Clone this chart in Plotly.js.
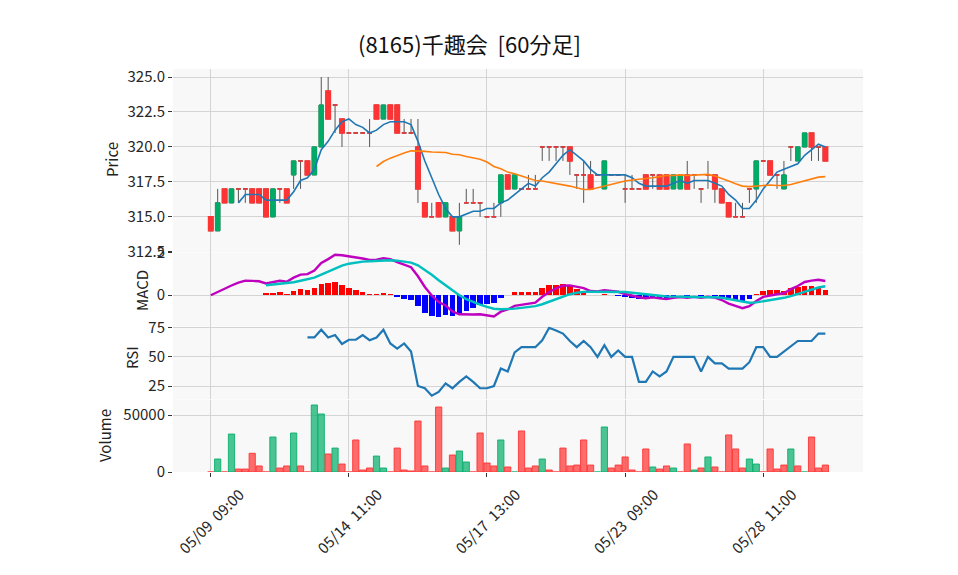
<!DOCTYPE html>
<html><head><meta charset="utf-8">
<script src="https://cdn.plot.ly/plotly-3.0.1.min.js"></script>
<style>html,body{margin:0;padding:0;background:#fff}#chart{width:958px;height:575px}</style>
</head><body><div id="chart"></div>
<script>
// ---- data (60-minute bars, index 0 = 05/09 09:00) ----
const opens  = [315,314,317,316,317,317,317,317,317,315,317,317,318,319,319,318,320,324,323,322,
                321,321,321,321,323,322,323,323,321,321,320,316,315,316,315,315,314,316,316,316,
                315,315,316,318,317,317,317,317,320,320,320,320,320,318,318,318,318,317,318,318,
                317,317,317,318,318,318,318,317,317,318,318,317,318,318,317,316,315,315,317,317,
                319,319,318,317,320,319,320,321,320,320];
const highs  = [315,317,317,317,317,317,317,317,317,317,317,317,319,319,319,320,325,325,323,322,
                321,321,321,322,323,323,323,323,322,322,322,316,316,316,316,315,316,317,317,316,
                315,316,318,318,318,317,318,318,320,320,320,320,320,318,319,319,318,319,318,318,
                318,318,317,318,318,318,318,318,318,319,318,317,319,318,317,316,316,316,317,319,
                319,319,318,319,320,320,321,321,320,320];
const lows   = [314,314,316,316,316,316,316,316,315,315,316,316,317,317,318,318,320,322,321,320,
                321,321,321,320,322,322,322,321,321,321,316,315,315,315,315,314,313,316,316,315,
                315,315,315,317,317,317,317,317,319,319,319,319,318,317,316,317,318,317,318,318,
                316,317,317,317,317,317,317,317,317,317,317,316,317,316,316,315,315,315,316,316,
                319,318,317,317,319,319,320,319,319,319];
const closes = [314,316,316,317,317,317,316,316,315,317,317,316,319,319,318,320,323,322,323,321,
                321,321,321,321,322,323,322,321,321,321,317,315,315,315,316,314,315,316,316,316,
                315,315,318,317,318,317,317,317,320,320,320,320,319,318,318,317,318,319,318,318,
                317,317,317,317,318,317,317,318,318,317,318,317,318,317,316,315,315,315,317,319,
                319,318,318,318,320,320,321,320,320,319];
const volumes = [0,11400,0,33300,2600,2600,16400,5300,0,30700,3500,5300,34200,5300,0,58800,50900,15800,21000,7000,
                 0,28100,1750,3500,14000,3500,0,21000,1750,900,44700,5300,0,57000,3500,14900,18400,8800,0,34200,
                 7900,5300,28100,4400,0,36000,3500,5300,11400,1750,0,21000,5300,6100,28100,6100,0,39500,3500,6100,
                 13200,1750,0,20200,4400,2600,5300,3500,0,24600,1750,3500,13200,4400,0,32500,20200,3500,11400,7000,
                 0,20200,2600,6100,20200,5300,0,30700,3500,6100];
const tickIdx  = [0, 20, 40, 60, 80];
const tickText = ['05/09  09:00', '05/14  11:00', '05/17  13:00', '05/23  09:00', '05/28  11:00'];
const chartTitle = '(8165)千趣会\u00a0\u00a0[60分足]';
const panelTitles = ['Price', 'MACD', 'RSI', 'Volume'];

// ---- derived indicators (as in the original chart) ----
const n = closes.length;
const idx = closes.map((_, i) => i);
function sma(arr, p) { return arr.map((_, i) => i < p - 1 ? null : arr.slice(i - p + 1, i + 1).reduce((a, b) => a + b, 0) / p); }
function ema(arr, span) { const a = 2 / (span + 1); const out = []; let prev = arr[0]; arr.forEach((v, i) => { prev = i === 0 ? v : a * v + (1 - a) * prev; out.push(prev); }); return out; }
const ma5 = sma(closes, 5), ma25 = sma(closes, 25);
const e12 = ema(closes, 12), e26 = ema(closes, 26);
const macd = e12.map((v, i) => v - e26[i]);
const sigFull = ema(macd, 9);
const signal = sigFull.map((v, i) => i < 8 ? null : v);
const hist = macd.map((v, i) => i < 8 ? null : v - sigFull[i]);
const diffs = closes.map((v, i) => i === 0 ? 0 : v - closes[i - 1]);
const rsi = closes.map((_, i) => {
  if (i < 14) return null;
  let g = 0, l = 0;
  for (let k = i - 13; k <= i; k++) { if (diffs[k] > 0) g += diffs[k]; else l -= diffs[k]; }
  return g + l === 0 ? 50 : 100 * g / (g + l);
});

const UP = '#00ab66', DN = '#fe3434', WICK = '#555555';
const upI = idx.filter(i => closes[i] > opens[i]);
const dnI = idx.filter(i => closes[i] <= opens[i]);
const volUp = idx.map(i => i === 0 ? closes[0] > opens[0] : closes[i] > closes[i - 1]);

const traces = [
  { type: 'candlestick', x: idx, open: opens, high: highs, low: lows, close: closes,
    increasing: { line: { color: WICK, width: 1 }, fillcolor: WICK },
    decreasing: { line: { color: WICK, width: 1 }, fillcolor: WICK },
    whiskerwidth: 0, hoverinfo: 'skip', xaxis: 'x', yaxis: 'y' },
  { type: 'candlestick', x: upI, open: upI.map(i => opens[i]), close: upI.map(i => closes[i]),
    high: upI.map(i => closes[i]), low: upI.map(i => opens[i]),
    increasing: { line: { color: UP, width: 1 }, fillcolor: UP },
    decreasing: { line: { color: UP, width: 1 }, fillcolor: UP },
    whiskerwidth: 0, hoverinfo: 'skip', xaxis: 'x', yaxis: 'y' },
  { type: 'candlestick', x: dnI, open: dnI.map(i => opens[i]), close: dnI.map(i => closes[i]),
    high: dnI.map(i => opens[i]), low: dnI.map(i => closes[i]),
    increasing: { line: { color: DN, width: 1.5 }, fillcolor: DN },
    decreasing: { line: { color: DN, width: 1.5 }, fillcolor: DN },
    whiskerwidth: 0, hoverinfo: 'skip', xaxis: 'x', yaxis: 'y' },
  { type: 'scatter', mode: 'lines', x: idx, y: ma5, line: { color: '#1f77b4', width: 1.6 }, xaxis: 'x', yaxis: 'y' },
  { type: 'scatter', mode: 'lines', x: idx, y: ma25, line: { color: '#ff7f0e', width: 1.6 }, xaxis: 'x', yaxis: 'y' },
  { type: 'bar', x: idx, y: hist, width: 0.8, marker: { color: hist.map(v => v >= 0 ? '#ff0000' : '#0000ff') }, xaxis: 'x', yaxis: 'y2' },
  { type: 'scatter', mode: 'lines', x: idx, y: macd, line: { color: '#bf00bf', width: 2.4 }, xaxis: 'x', yaxis: 'y2' },
  { type: 'scatter', mode: 'lines', x: idx, y: signal, line: { color: '#00bfbf', width: 2.4 }, xaxis: 'x', yaxis: 'y2' },
  { type: 'scatter', mode: 'lines', x: idx, y: rsi, line: { color: '#1f77b4', width: 2.2 }, xaxis: 'x', yaxis: 'y3' },
  { type: 'bar', x: idx, y: volumes, width: 0.9,
    marker: { color: volUp.map(u => u ? 'rgba(0,174,104,0.7)' : 'rgba(255,52,52,0.72)'),
              line: { color: volUp.map(u => u ? 'rgba(0,174,104,0.85)' : 'rgba(255,52,52,0.9)'), width: 1 } },
    xaxis: 'x', yaxis: 'y4' }
];

const FONT = 'Noto Sans CJK JP, Noto Sans, sans-serif';
const GRID = '#d4d4d4';
const FS = 15;
const yBase = { showgrid: true, gridcolor: GRID, gridwidth: 1, zeroline: false, ticks: 'outside', ticklen: 4,
                tickcolor: '#333', tickfont: { size: FS, color: '#262626' }, fixedrange: true, anchor: 'x' };
// panel-title placement (paper coords)
const titlePos = [[-0.0884, 0.7742], [-0.0464, 0.4516], [-0.0594, 0.2829], [-0.1, 0.0893]];
const annotations = panelTitles.map((t, k) => ({
  text: t, xref: 'paper', yref: 'paper', x: titlePos[k][0], y: titlePos[k][1], xanchor: 'center', yanchor: 'middle',
  textangle: -90, showarrow: false, font: { size: FS, color: '#222' }
}));
const layout = {
  width: 958, height: 575,
  margin: { l: 173, r: 95, t: 69, b: 103 },
  paper_bgcolor: '#ffffff', plot_bgcolor: '#f8f8f8',
  font: { family: FONT, size: FS, color: '#222' },
  title: { text: chartTitle, x: 0.49, xanchor: 'center', y: 0.921, yanchor: 'middle', yref: 'container',
           font: { size: 22, color: '#111' } },
  showlegend: false, boxgap: 0.35, boxgroupgap: 0, bargap: 0,
  annotations: annotations,
  xaxis: { range: [-5.47, 94.45], anchor: 'y4', tickvals: tickIdx, ticktext: tickText, tickangle: -45,
           ticklabelshift: 29, ticklabelstandoff: 3,
           showgrid: true, gridcolor: GRID, zeroline: false, ticks: 'outside', ticklen: 4, tickcolor: '#333',
           tickfont: { size: FS, color: '#262626' }, rangeslider: { visible: false }, fixedrange: true },
  yaxis:  Object.assign({}, yBase, { domain: [0.5459, 1], range: [312.486, 325.575], dtick: 2.5, tick0: 0, tickformat: '.1f' }),
  yaxis2: Object.assign({}, yBase, { domain: [0.3623, 0.5447], range: [-1.44, 2.0], dtick: 2, tick0: 0 }),
  yaxis3: Object.assign({}, yBase, { domain: [0.1811, 0.3611], range: [13.85, 76.1], tickvals: [25, 50, 75] }),
  yaxis4: Object.assign({}, yBase, { domain: [0, 0.1799], range: [0, 63600], tickvals: [0, 50000], tickformat: 'd' })
};
Plotly.newPlot('chart', traces, layout, { displayModeBar: false, staticPlot: true });
</script></body></html>
